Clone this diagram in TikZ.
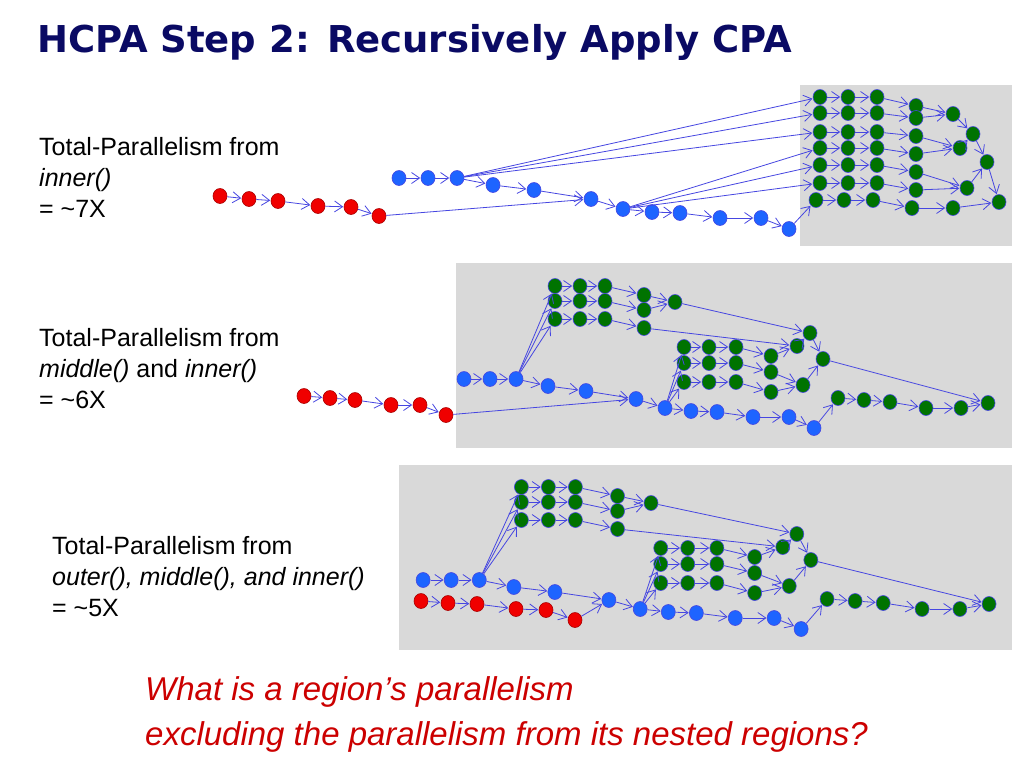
\documentclass[tikz,border=0pt]{standalone}
\usepackage{fontspec}
\setmainfont{Liberation Sans}
\newfontfamily\titlefont{DejaVu Sans}
\usetikzlibrary{arrows.meta,shapes.geometric}
\definecolor{navy}{RGB}{10,10,100}
\definecolor{edgeblue}{RGB}{70,70,225}
\definecolor{dotblue}{RGB}{30,100,255}
\definecolor{dotgreen}{RGB}{0,115,0}
\definecolor{dotred}{RGB}{240,0,0}
\definecolor{panelgray}{RGB}{217,217,217}
\tikzset{
  dot/.style={ellipse,draw=edgeblue,line width=0.6pt,minimum width=14pt,minimum height=15pt,inner sep=0pt},
  rdot/.style={dot,fill=dotred,draw=dotred!70!black},
  bdot/.style={dot,fill=dotblue},
  gdot/.style={dot,fill=dotgreen},
  flow/.style={draw=edgeblue,line width=0.8pt,-{Straight Barb[length=8pt,width=11pt]},shorten >=0.5pt},
  lbl/.style={anchor=north west,align=left,font=\fontsize{25}{31}\selectfont,inner sep=0pt}
}
% one nested-region panel, node names prefixed with #1
\newcommand{\nestpanel}[1]{%
  \foreach \i/\x/\y in {1/464/379,2/490/379,3/516/379,4/548/386,5/586/391,6/636/399,
      7/665/408,8/691/411,9/717/412,10/753/417,11/789/417,12/814/428}
    \node[bdot] (#1b\i) at (\x,\y) {};
  \foreach \r/\y/\yy in {1/286/295,2/301/310,3/319/328}{
    \foreach \c/\x in {1/555,2/580,3/605}
      \node[gdot] (#1u\c\r) at (\x,\y) {};
    \node[gdot] (#1u4\r) at (644,\yy) {};
  }
  \node[gdot] (#1uE) at (675,302) {};
  \foreach \r/\y/\yy in {1/347/356,2/363/372,3/382/392}{
    \foreach \c/\x in {1/684,2/709,3/736}
      \node[gdot] (#1i\c\r) at (\x,\y) {};
    \node[gdot] (#1i4\r) at (771,\yy) {};
  }
  \node[gdot] (#1iP) at (797,346) {};
  \node[gdot] (#1iQ) at (803,385) {};
  \node[gdot] (#1iR) at (810,333) {};
  \node[gdot] (#1iS) at (823,359) {};
  \foreach \i/\x/\y in {1/838/398,2/864/400,3/890/402,4/926/408,5/961/408,6/988/403}
    \node[gdot] (#1k\i) at (\x,\y) {};
  % connectors
  \foreach \i [evaluate=\i as \j using int(\i+1)] in {1,...,11}
    \draw[flow] (#1b\i) -- (#1b\j);
  \foreach \i [evaluate=\i as \j using int(\i+1)] in {1,...,5}
    \draw[flow] (#1k\i) -- (#1k\j);
  \foreach \r in {1,2,3}{
    \draw[flow] (#1b3) -- (#1u1\r);
    \draw[flow] (#1b7) -- (#1i1\r);
    \draw[flow] (#1u1\r) -- (#1u2\r);
    \draw[flow] (#1u2\r) -- (#1u3\r);
    \draw[flow] (#1u3\r) -- (#1u4\r);
    \draw[flow] (#1i1\r) -- (#1i2\r);
    \draw[flow] (#1i2\r) -- (#1i3\r);
    \draw[flow] (#1i3\r) -- (#1i4\r);
  }
  \draw[flow] (#1u41) -- (#1uE);
  \draw[flow] (#1u42) -- (#1uE);
  \draw[flow] (#1uE) -- (#1iR);
  \draw[flow] (#1u43) -- (#1iP);
  \draw[flow] (#1i41) -- (#1iP);
  \draw[flow] (#1i42) -- (#1iQ);
  \draw[flow] (#1i43) -- (#1iQ);
  \draw[flow] (#1iP) -- (#1iR);
  \draw[flow] (#1iQ) -- (#1iS);
  \draw[flow] (#1iR) -- (#1iS);
  \draw[flow] (#1iS) -- (#1k6);
  \draw[flow] (#1b12) -- (#1k1);
}
% red chain of six, prefix #1, feeding node #2
\newcommand{\redchain}[8]{%
  \foreach \i/\x/\y [count=\n] in {#3,#4,#5,#6,#7,#8}
    \node[rdot] (#1r\n) at (\x,\y) {};
  \foreach \i [evaluate=\i as \j using int(\i+1)] in {1,...,5}
    \draw[flow] (#1r\i) -- (#1r\j);
  \draw[flow] (#1r6) -- (#2);
}
\begin{document}
\begin{tikzpicture}[x=1pt,y=-1pt]
  \useasboundingbox[fill=white] (0,0) rectangle (1024,768);

  \node[anchor=west,font=\fontsize{37}{42}\selectfont\titlefont\bfseries,text=navy,inner sep=0pt] (title) at (37,42) {HCPA Step 2: Recursively Apply CPA};

  % gray regions
  \fill[panelgray] (800,85) rectangle (1012,246);
  \fill[panelgray] (456,263) rectangle (1012,448);
  \fill[panelgray] (399,465) rectangle (1012,650);

  % labels
  \node[lbl] (lblA) at (39,137) {Total-Parallelism from\\\textit{inner()}\\= \textasciitilde7X};
  \node[lbl] (lblB) at (39,328) {Total-Parallelism from\\\textit{middle()} and \textit{inner()}\\= \textasciitilde6X};
  \node[lbl] (lblC) at (52,536) {Total-Parallelism from\\\textit{outer(), middle(), and inner()}\\= \textasciitilde5X};

  % top panel
  \foreach \i/\x/\y in {1/399/178,2/428/178,3/457/178,4/493/185,5/534/190,6/591/199,
      7/623/209,8/652/212,9/680/213,10/720/218,11/761/218,12/789/229}
    \node[bdot] (tb\i) at (\x,\y) {};
  \foreach \r/\y/\yy/\dx in {1/97/106/0,2/113/118/0,3/132/136/0,4/148/154/0,5/165/172/0,6/183/190/0,7/200/208/-4}{
    \foreach \c/\x in {1/820,2/848,3/877}
      \node[gdot] (tg\c\r) at (\x+\dx,\y) {};
    \node[gdot] (tg4\r) at (916+\dx,\yy) {};
  }
  \node[gdot] (tA) at (953,114) {};
  \node[gdot] (tB) at (973,134) {};
  \node[gdot] (tC) at (960,148) {};
  \node[gdot] (tD) at (987,162) {};
  \node[gdot] (tE) at (967,188) {};
  \node[gdot] (tF) at (953,208) {};
  \node[gdot] (tG) at (999,202) {};
  \foreach \i [evaluate=\i as \j using int(\i+1)] in {1,...,11}
    \draw[flow] (tb\i) -- (tb\j);
  \foreach \r in {1,...,7}{
    \draw[flow] (tg1\r) -- (tg2\r);
    \draw[flow] (tg2\r) -- (tg3\r);
    \draw[flow] (tg3\r) -- (tg4\r);
  }
  \foreach \r in {1,2,3} \draw[flow] (tb3) -- (tg1\r);
  \foreach \r in {4,5,6} \draw[flow] (tb7) -- (tg1\r);
  \draw[flow] (tb12) -- (tg17);
  \draw[flow] (tg41) -- (tA);
  \draw[flow] (tg42) -- (tA);
  \draw[flow] (tA) -- (tB);
  \draw[flow] (tg43) -- (tC);
  \draw[flow] (tg44) -- (tC);
  \draw[flow] (tC) -- (tB);
  \draw[flow] (tB) -- (tD);
  \draw[flow] (tg45) -- (tE);
  \draw[flow] (tg46) -- (tE);
  \draw[flow] (tE) -- (tD);
  \draw[flow] (tg47) -- (tF);
  \draw[flow] (tF) -- (tG);
  \draw[flow] (tD) -- (tG);

  % middle panel
  \nestpanel{m}
  % bottom panel
  \begin{scope}[shift={(-78,201)},xscale=1.08]
    \nestpanel{n}
  \end{scope}

  % red chains
  \redchain{t}{tb6}{1/220/196}{2/249/199}{3/278/201}{4/318/206}{5/351/207}{6/379/216}
  \redchain{m}{mb6}{1/304/396}{2/330/398}{3/355/400}{4/391/405}{5/420/405}{6/446/415}
  \redchain{n}{nb6}{1/421/601}{2/448/603}{3/477/604}{4/516/609}{5/546/610}{6/575/620}

  \node[anchor=north west,align=left,font=\fontsize{33}{45}\selectfont\itshape,text=dotred!85!black,inner sep=0pt] (question) at (145,676)
    {What is a region’s parallelism\\excluding the parallelism from its nested regions?};
\end{tikzpicture}
\end{document}
